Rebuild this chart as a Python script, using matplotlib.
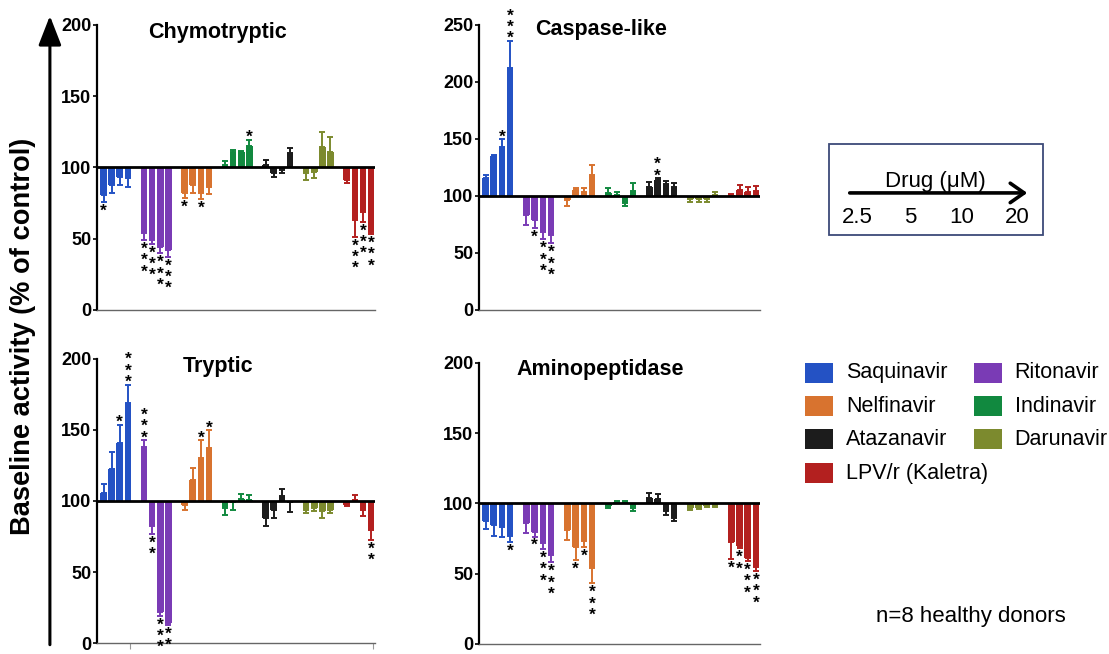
import numpy as np
import matplotlib.pyplot as plt
from matplotlib.patches import Rectangle, FancyArrowPatch

plt.rcParams['font.family'] = ['Liberation Sans', 'DejaVu Sans']

drugs = ['Saquinavir', 'Ritonavir', 'Nelfinavir', 'Indinavir', 'Atazanavir', 'Darunavir', 'LPV/r (Kaletra)']
colors = ['#2452c4', '#7a3bb5', '#d8732f', '#11893f', '#1c1c1c', '#7c8a2e', '#b3201f']
doses = ['2.5', '5', '10', '20']

# mean % of control, 4 doses per drug (order as in drugs)
chymo_mean = [80.7, 87.7, 93.6, 92.4,  53.8, 49.0, 44.4, 42.1,  82.3, 87.7, 82.3, 86.5,
              101.7, 111.1, 111.0, 115.0,  101.8, 95.9, 98.2, 110.0,  95.9, 97.1, 114.6, 110.6,
              91.2, 63.2, 69.0, 55.0]
chymo_err = [4.7, 5.8, 5.9, 6.4,  4.8, 2.5, 4.6, 4.7,  3.9, 5.4, 4.4, 5.3,
             2.9, 1.2, 0.8, 4.3,  3.2, 2.3, 1.8, 3.4,  4.7, 4.2, 10.5, 10.6,
             2.3, 11.7, 7.0, 1.8]
chymo_sig = ['*', '', '', '',  '***', '***', '***', '***',  '*', '', '*', '',
             '', '', '', '*',  '', '', '', '',  '', '', '', '',
             '', '***', '***', '***']

casp_mean = [115.5, 135.0, 143.3, 212.6,  83.3, 79.0, 68.7, 65.8,  96.5, 105.3, 103.8, 118.4,
             102.3, 100.9, 93.6, 104.7,  108.2, 114.0, 110.2, 108.2,  97.0, 97.0, 97.0, 100.5,
             101.0, 105.3, 103.8, 104.4]
casp_err = [2.9, 1.2, 6.4, 23.4,  8.7, 7.4, 6.7, 7.3,  5.3, 1.6, 2.9, 8.8,
            4.4, 2.9, 2.4, 6.3,  4.4, 1.5, 3.0, 2.8,  2.6, 2.6, 2.6, 3.0,
            1.0, 4.3, 4.4, 4.4]
casp_sig = ['', '', '*', '***',  '', '*', '***', '***',  '', '', '', '',
            '', '', '', '',  '', '**', '', '',  '', '', '', '',
            '', '', '', '']

tryp_mean = [105.6, 122.5, 140.8, 169.0,  137.8, 82.1, 21.6, 14.1,  97.4, 114.5, 130.3, 137.3,
             95.0, 99.0, 101.7, 101.0,  88.0, 93.9, 103.3, 99.0,  93.9, 95.0, 92.7, 93.9,
             97.4, 101.0, 93.9, 79.8]
tryp_err = [6.6, 11.7, 12.9, 12.9,  4.9, 5.1, 2.4, 1.2,  3.5, 8.7, 12.4, 12.4,
            4.6, 5.0, 3.4, 3.0,  5.4, 5.9, 5.1, 7.0,  2.4, 2.3, 4.7, 2.4,
            1.0, 3.4, 4.2, 7.0]
tryp_sig = ['', '', '*', '***',  '***', '**', '***', '**',  '', '', '*', '*',
            '', '', '', '',  '', '', '', '',  '', '', '', '',
            '', '', '', '**']

amino_mean = [87.2, 84.8, 83.1, 77.2,  86.0, 80.0, 71.7, 63.4,  80.8, 68.9, 73.6, 54.4,
              97.9, 101.0, 101.2, 96.7,  103.8, 103.3, 94.3, 89.5,  96.7, 96.7, 97.9, 97.9,
              72.4, 69.4, 61.0, 55.0]
amino_err = [5.5, 7.6, 7.1, 4.8,  6.7, 3.5, 4.0, 5.2,  6.7, 9.0, 4.7, 11.2,
             1.0, 0.8, 0.8, 2.4,  3.6, 3.3, 2.4, 2.3,  1.2, 0.7, 0.5, 0.5,
             12.1, 1.4, 2.0, 3.0]
amino_sig = ['', '', '', '*',  '', '*', '***', '***',  '', '*', '*', '***',
             '', '', '', '',  '', '', '', '',  '', '', '', '',
             '*', '**', '***', '***']

panels = [
    ('Chymotryptic', chymo_mean, chymo_err, chymo_sig, 200, [0.0875, 0.526, 0.2507, 0.4358], (0.435, 0.975)),
    ('Caspase-like', casp_mean, casp_err, casp_sig, 250, [0.4319, 0.526, 0.2534, 0.4358], (0.434, 0.985)),
    ('Tryptic', tryp_mean, tryp_err, tryp_sig, 200, [0.0875, 0.0168, 0.2507, 0.4343], (0.435, 0.975)),
    ('Aminopeptidase', amino_mean, amino_err, amino_sig, 200, [0.4319, 0.0153, 0.2534, 0.4297], (0.43, 0.975)),
]

fig = plt.figure(figsize=(11.09, 6.54), dpi=100)

star_fs = 12.5
for title, mean, err, sig, ymax, rect, tpos in panels:
    ax = fig.add_axes(rect)
    mean = np.array(mean)
    err = np.array(err)
    pos = np.array([g * 5 + i for g in range(7) for i in range(4)])
    bar_colors = [c for c in colors for _ in range(4)]
    ax.bar(pos, mean - 100, bottom=100, width=0.8, color=bar_colors, zorder=2)
    up = mean >= 100
    for g in range(7):
        s = slice(g * 4, g * 4 + 4)
        lo = np.where(up[s], 0, err[s])
        hi = np.where(up[s], err[s], 0)
        ax.errorbar(pos[s], mean[s], yerr=[lo, hi], fmt='none', ecolor=colors[g],
                    elinewidth=1.4, capsize=2, capthick=1.4, zorder=2)
    ax.axhline(100, color='black', lw=2, zorder=3)

    # significance stars stacked off the end of each error bar
    for x, m, e, st, u in zip(pos, mean, err, sig, up):
        if not st:
            continue
        stack = '\n'.join(st)
        if u:
            ax.annotate(stack, (x, m + e), xytext=(0, -3.8), textcoords='offset points',
                        ha='center', va='bottom', fontsize=star_fs, fontweight='bold',
                        linespacing=0.7, zorder=4)
        else:
            ax.annotate(stack, (x, m - e), xytext=(0, -1.2), textcoords='offset points',
                        ha='center', va='top', fontsize=star_fs, fontweight='bold',
                        linespacing=0.7, zorder=4)

    ax.set_xlim(-0.8, 33.5)
    ax.set_ylim(0, ymax)
    ax.set_yticks(np.arange(0, ymax + 1, 50))
    ax.tick_params(axis='y', length=3, width=1.2, labelsize=13, pad=1)
    for lab in ax.get_yticklabels():
        lab.set_fontweight('bold')
    if title == 'Tryptic':
        ax.set_xticks([3.27, 33.3])
        ax.set_xticklabels([])
        ax.tick_params(axis='x', length=4, width=0.8, color='#999999')
    else:
        ax.set_xticks([])
    for side in ['top', 'right']:
        ax.spines[side].set_visible(False)
    ax.spines['left'].set_linewidth(1.6)
    ax.spines['bottom'].set_linewidth(1.0)
    ax.spines['bottom'].set_color('#666666')
    ax.patch.set_alpha(0)
    ax.text(tpos[0], tpos[1], title, transform=ax.transAxes, ha='center', va='center',
            fontsize=15.5, fontweight='bold')

# shared y label with long arrow
fig.text(0.021, 0.486, 'Baseline activity (% of control)', rotation=90, ha='center', va='center',
         fontsize=19.6, fontweight='bold')
fig.add_artist(FancyArrowPatch((0.045, 0.01), (0.045, 0.98), transform=fig.transFigure,
                               arrowstyle='-|>,head_length=0.9,head_width=0.35', mutation_scale=20,
                               lw=2.2, color='black'))

# dose key box
fig.add_artist(Rectangle((0.7475, 0.6407), 0.193, 0.139, transform=fig.transFigure,
                         fill=False, edgecolor='#3d4a78', lw=1.3))
fig.text(0.843, 0.722, 'Drug (\u03bcM)', ha='center', va='center', fontsize=16)
fig.add_artist(FancyArrowPatch((0.7637, 0.705), (0.9288, 0.705), transform=fig.transFigure,
                               arrowstyle='->,head_length=0.5,head_width=0.35', mutation_scale=20,
                               lw=2.6, color='black'))
for x, d in zip([0.773, 0.821, 0.867, 0.917], doses):
    fig.text(x, 0.667, d, ha='center', va='center', fontsize=16)

# legend, two columns
leg_x = [0.726, 0.878]
leg_y = [0.4297, 0.379, 0.3287, 0.2767]
for n, (name, c) in enumerate(zip(drugs, colors)):
    col = 0 if n in (0, 2, 4, 6) else 1
    row = n // 2
    x0 = leg_x[col]
    y0 = leg_y[row]
    fig.add_artist(Rectangle((x0, y0 - 0.0153), 0.0252, 0.0306, transform=fig.transFigure,
                             facecolor=c, edgecolor='none'))
    fig.text(x0 + 0.037, y0, name, ha='left', va='center', fontsize=15.5)

fig.text(0.8756, 0.058, 'n=8 healthy donors', ha='center', va='center', fontsize=16)

fig.savefig('out.png', dpi=100)
